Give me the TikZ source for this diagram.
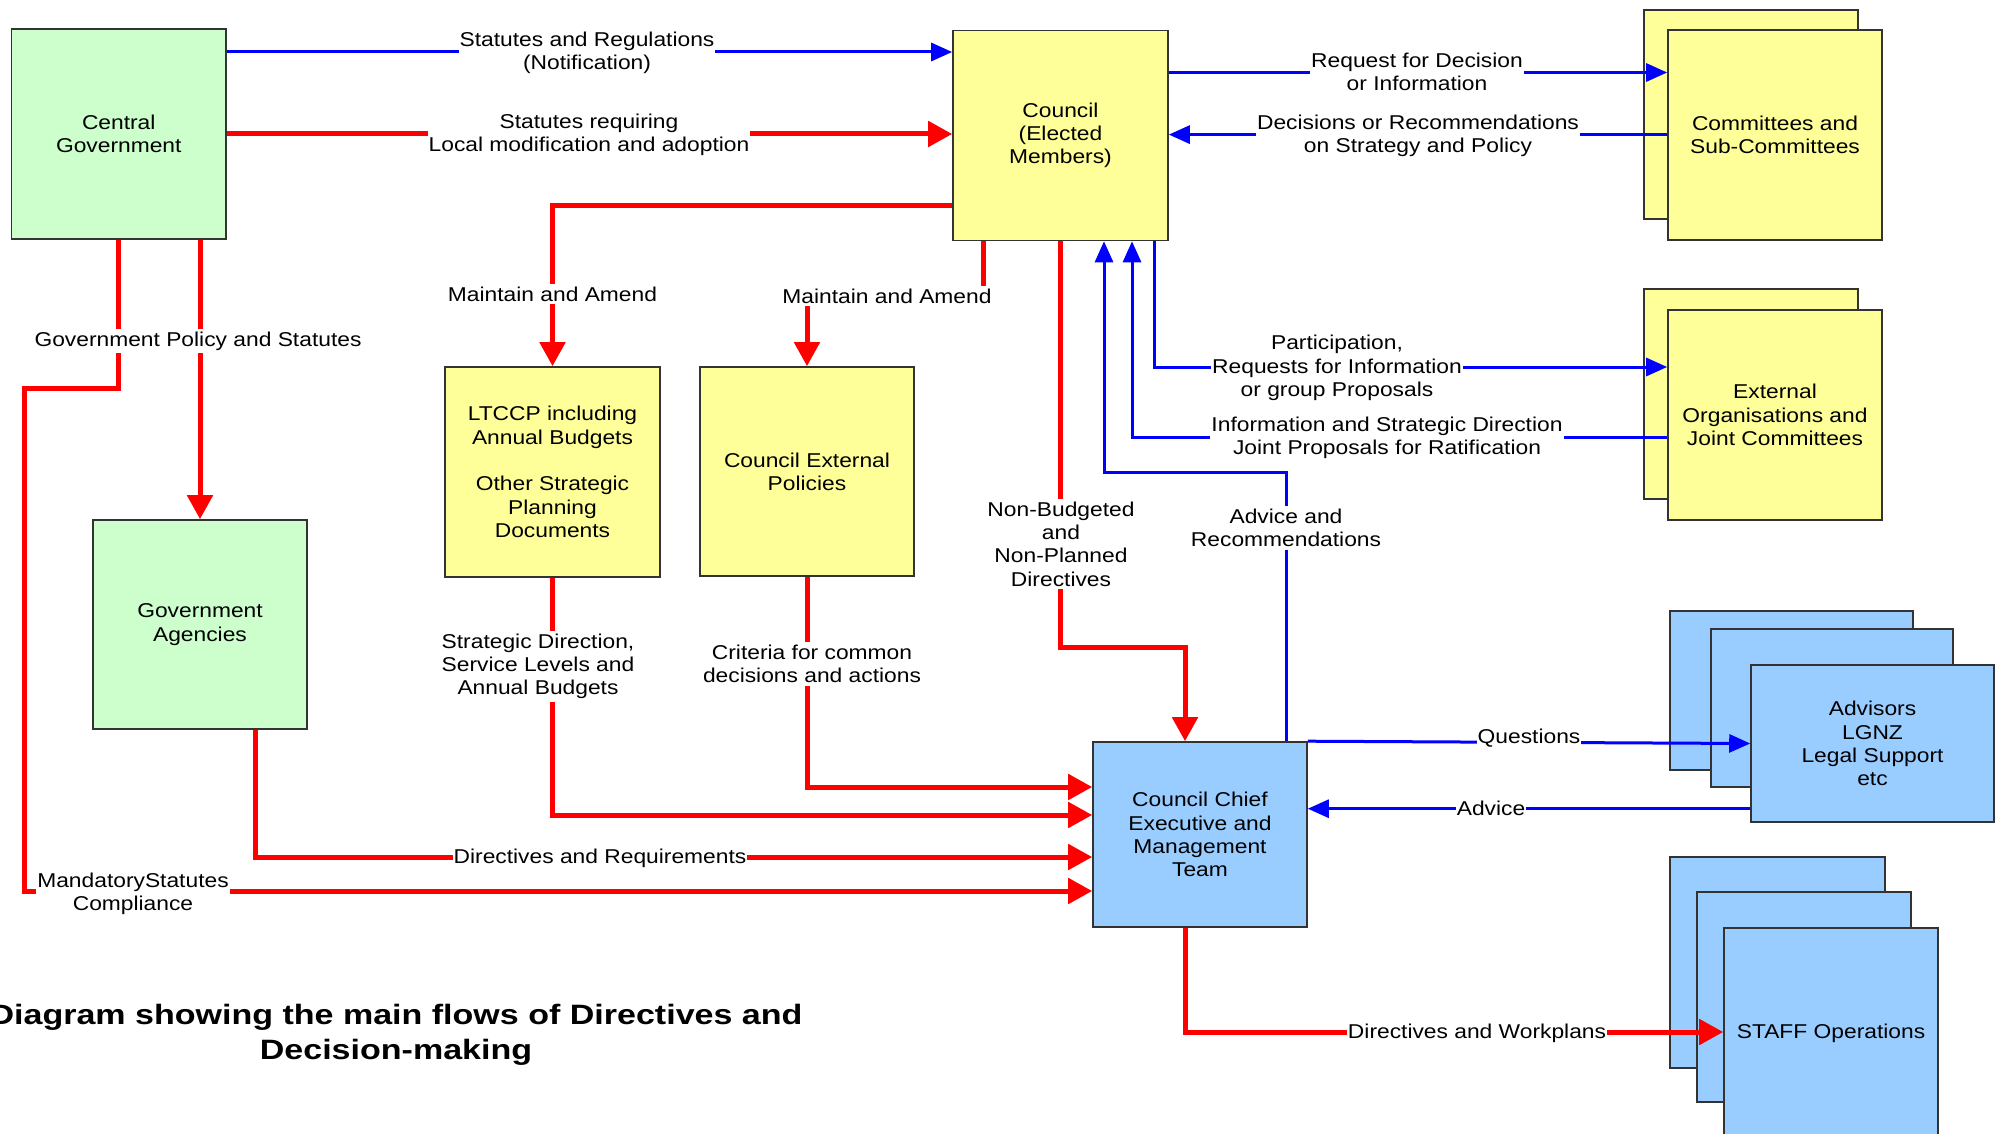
\documentclass[tikz,border=0pt]{standalone}
\usepackage{fontspec}
\setmainfont{Liberation Sans}[FakeStretch=1.14]
\newfontfamily\titlefont{Liberation Sans}[FakeStretch=1.215]
\usetikzlibrary{arrows.meta}
\definecolor{cgreen}{HTML}{CCFFCC}
\definecolor{cyellow}{HTML}{FFFF99}
\definecolor{cblue}{HTML}{99CCFF}
\definecolor{bord}{HTML}{333333}
\begin{document}
\begin{tikzpicture}[x=1pt,y=-1pt,
  every node/.style={font=\fontsize{20}{23.3}\selectfont},
  box/.style={draw=bord, line width=1.6pt, align=center, inner sep=0pt},
  gbox/.style={box, fill=cgreen},
  ybox/.style={box, fill=cyellow},
  bbox/.style={box, fill=cblue},
  rline/.style={draw=red, line width=5pt},
  bline/.style={draw=blue, line width=3pt},
  rarr/.style={rline, -{Triangle[length=24pt,width=25pt]}},
  barr/.style={bline, -{Triangle[length=21pt,width=18pt]}},
  lab/.style={fill=white, align=center, inner xsep=1pt, inner ysep=3pt},
]
\useasboundingbox[fill=white] (0,0) rectangle (2002,1134);

% boxes
\node[gbox, minimum width=214.5pt, minimum height=210pt] (cg) at (118.75,134) {Central\\Government};
\node[ybox, minimum width=215pt, minimum height=210pt] (council) at (1060.5,135.5) {Council\\(Elected\\Members)};
\node[ybox, minimum width=214pt, minimum height=209pt] (comb) at (1751,114.5) {};
\node[ybox, minimum width=214pt, minimum height=210pt] (com) at (1775,135) {Committees and\\Sub-Committees};
\node[ybox, minimum width=214pt, minimum height=210pt] (extb) at (1751,394) {};
\node[ybox, minimum width=214pt, minimum height=210pt] (ext) at (1775,415) {External\\Organisations and\\Joint Committees};
\node[ybox, minimum width=215pt, minimum height=210pt] (ltccp) at (552.5,472) {LTCCP including\\Annual Budgets\\[23.3pt]Other Strategic\\Planning\\Documents};
\node[ybox, minimum width=214pt, minimum height=209pt] (cep) at (807,471.5) {Council External\\Policies};
\node[gbox, minimum width=214pt, minimum height=209pt] (ga) at (200,624.5) {Government\\Agencies};
\node[bbox, minimum width=214pt, minimum height=185pt] (cc) at (1200,834.5) {Council Chief\\Executive and\\Management\\Team};
\node[bbox, minimum width=243pt, minimum height=159pt] (adv1) at (1791.5,690.5) {};
\node[bbox, minimum width=242pt, minimum height=158pt] (adv2) at (1832,708) {};
\node[bbox, minimum width=243pt, minimum height=157pt] (adv3) at (1872.5,743.5) {Advisors\\LGNZ\\Legal Support\\etc};
\node[bbox, minimum width=215pt, minimum height=211pt] (staff1) at (1777.5,962.5) {};
\node[bbox, minimum width=214pt, minimum height=210pt] (staff2) at (1804,997) {};
\node[bbox, minimum width=214pt, minimum height=211pt] (staff3) at (1831,1033.5) {STAFF Operations};

% connectors
\draw[barr] (cg.east |- 0,52) -- (council.west |- 0,52);
\draw[rarr] (cg.east |- 0,134) -- (council.west |- 0,134);
\draw[rarr] (council.west |- 0,206) -| (ltccp.north);
\draw[rarr] (council.south -| 983,0) |- (807,295) -- (cep.north);
\draw[rarr] (council.south) |- (1185,647) -- (cc.north -| 1185,0);
\draw[barr] (cc.north -| 1286,0) |- (1104,472) -- (council.south -| 1104,0);
\draw[barr] (council.south -| 1154,0) |- (ext.west |- 0,367);
\draw[barr] (ext.west |- 0,437) -| (council.south -| 1132,0);
\draw[barr] (council.east |- 0,72.5) -- (com.west |- 0,72.5);
\draw[barr] (com.west |- 0,134.6) -- (council.east |- 0,134.6);
\draw[rarr] (cg.south -| ga.north) -- (ga.north);
\draw[rarr] (cg.south -| 118.6,0) |- (24,388) |- (cc.west |- 0,891);
\draw[rarr] (ga.south -| 255,0) |- (cc.west |- 0,857);
\draw[rarr] (ltccp.south) |- (cc.west |- 0,815);
\draw[rarr] (cep.south) |- (cc.west |- 0,787);
\draw[barr] (cc.north east) -- (adv3.west);
\draw[barr] (adv3.west |- 0,808.7) -- (cc.east |- 0,808.7);
\draw[rarr] (cc.south -| 1185,0) |- (staff3.west |- 0,1032);

% labels
\node[lab] (l1) at (587,53) {Statutes and Regulations\\(Notification)};
\node[lab] (l2) at (589,135) {Statutes requiring\\Local modification and adoption};
\node[lab] (l3) at (552.5,294) {Maintain and Amend};
\node[lab] (l4) at (887,296) {Maintain and Amend};
\node[lab] (l5) at (1061,544) {Non-Budgeted\\and\\Non-Planned\\Directives};
\node[lab] (l6) at (1286,528) {Advice and\\Recommendations};
\node[lab] (l7) at (1337,368) {Participation,\\Requests for Information\\or group Proposals};
\node[lab] (l8) at (1387,437.5) {Information and Strategic Direction\\Joint Proposals for Ratification};
\node[lab] (l9) at (1417,72) {Request for Decision\\or Information};
\node[lab] (l10) at (1418,136) {Decisions or Recommendations\\on Strategy and Policy};
\node[lab] (l11) at (198,341) {Government Policy and Statutes};
\node[lab] (l12) at (133,894) {MandatoryStatutes\\Compliance};
\node[lab] (l13) at (600,858.5) {Directives and Requirements};
\node[lab] (l14) at (538,666.5) {Strategic Direction,\\Service Levels and\\Annual Budgets};
\node[lab] (l15) at (812,664) {Criteria for common\\decisions and actions};
\node[lab] (l16) at (1529,738) {Questions};
\node[lab] (l17) at (1491,808) {Advice};
\node[lab] (l18) at (1477,1033.5) {Directives and Workplans};

% title
\node[font=\titlefont\bfseries\fontsize{28}{35}\selectfont, align=center, inner sep=0pt] (title) at (396,1035) {Diagram showing the main flows of Directives and\\Decision-making};
\end{tikzpicture}
\end{document}
